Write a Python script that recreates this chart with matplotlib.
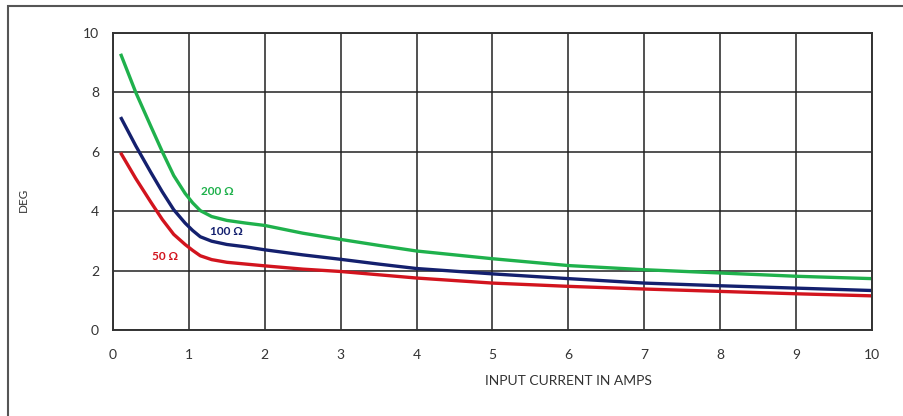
import matplotlib.pyplot as plt
from matplotlib.patches import Rectangle

plt.rcParams['font.family'] = ['Lato', 'DejaVu Sans']

# current (A) and phase error (deg) for each burden
amps = [0.1, 0.3, 0.5, 0.65, 0.8, 0.95, 1.05, 1.15, 1.3, 1.5, 1.75, 2.0, 2.5, 3.0, 3.5,
        4.0, 5.0, 6.0, 7.0, 8.0, 9.0, 10.0]
deg_200 = [9.3, 8.0, 6.85, 6.0, 5.2, 4.6, 4.28, 4.02, 3.82, 3.69, 3.60, 3.52, 3.26, 3.05, 2.85,
           2.66, 2.40, 2.17, 2.03, 1.92, 1.81, 1.73]
deg_100 = [7.17, 6.2, 5.3, 4.65, 4.05, 3.6, 3.35, 3.14, 2.99, 2.88, 2.80, 2.70, 2.53, 2.38, 2.22,
           2.07, 1.89, 1.73, 1.58, 1.49, 1.41, 1.33]
deg_50 = [5.97, 5.1, 4.3, 3.72, 3.22, 2.88, 2.68, 2.5, 2.37, 2.28, 2.22, 2.16, 2.05, 1.97, 1.86,
          1.75, 1.58, 1.47, 1.38, 1.30, 1.22, 1.15]

labels = ['200 Ω', '100 Ω', '50 Ω']
colors = ['#1fb14c', '#14206e', '#d2141e']

fig = plt.figure(figsize=(9.04, 4.16), dpi=100)
ax = fig.add_axes([0.125, 0.2067, 0.8396, 0.714])

ax.plot(amps, deg_200, color=colors[0], lw=2.4, solid_capstyle='butt', solid_joinstyle='round')
ax.plot(amps, deg_100, color=colors[1], lw=2.4, solid_capstyle='butt', solid_joinstyle='round')
ax.plot(amps, deg_50, color=colors[2], lw=2.4, solid_capstyle='butt', solid_joinstyle='round')

# curve labels
ax.text(1.38, 4.65, labels[0], color=colors[0], fontsize=8.5, fontweight='bold', ha='center', va='center')
ax.text(1.50, 3.33, labels[1], color=colors[1], fontsize=8.5, fontweight='bold', ha='center', va='center')
ax.text(0.69, 2.46, labels[2], color=colors[2], fontsize=8.5, fontweight='bold', ha='center', va='center')

ax.set_xlim(0, 10)
ax.set_ylim(0, 10)
ax.set_xticks(range(0, 11))
ax.set_yticks(range(0, 11, 2))
ax.grid(True, color='#222222', lw=1.1)
for s in ax.spines.values():
    s.set_color('#333333')
    s.set_linewidth(1.4)
ax.tick_params(length=0, labelsize=10, colors='#333333', pad=10)
ax.tick_params(axis='x', pad=14)

fig.text(568 / 904, 1 - 381 / 416, 'INPUT CURRENT IN AMPS', fontsize=10, color='#333333',
         ha='center', va='center')
fig.text(23 / 904, 1 - 200 / 416, 'DEG', rotation=90, fontsize=8.5, color='#333333',
         ha='center', va='center')

# outer frame, open at the right and bottom edges
fig.patches.append(Rectangle((8 / 904, -0.1), 1.1, 1.1 - 6 / 416, transform=fig.transFigure,
                             fill=False, edgecolor='#555555', lw=1.5))

fig.savefig('out.png', dpi=100)
